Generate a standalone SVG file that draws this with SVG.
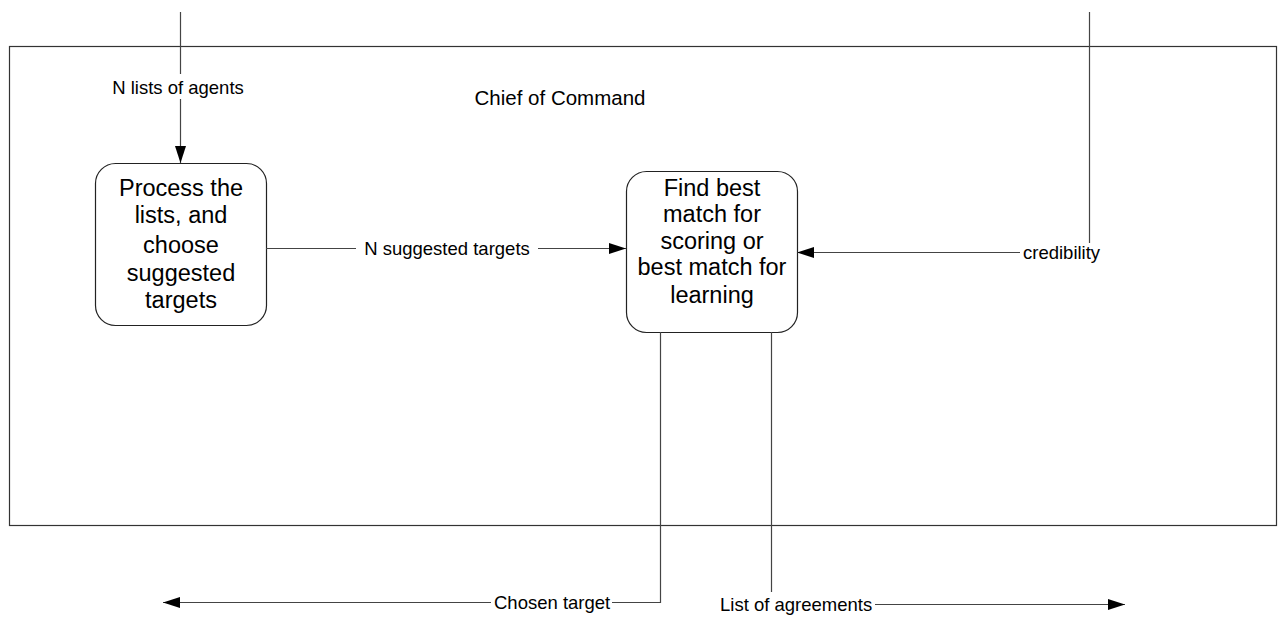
<svg xmlns="http://www.w3.org/2000/svg" width="1278" height="644" viewBox="0 0 1278 644">
  <style>
    .frame { fill: #ffffff; stroke: #333333; stroke-width: 1.2; }
    .node { fill: #ffffff; stroke: #222222; stroke-width: 1.2; }
    .wire { fill: none; stroke: #444444; stroke-width: 1.2; }
    .title { font-family: "Liberation Sans", Arial, sans-serif; font-size: 20.5px; fill: #000000; }
    .ntext { font-family: "Liberation Sans", Arial, sans-serif; font-size: 23.5px; fill: #000000; text-anchor: middle; }
    .lbl { font-family: "Liberation Sans", Arial, sans-serif; font-size: 18.5px; fill: #000000; }
  </style>
  <defs>
    <marker id="arrow" markerUnits="userSpaceOnUse" markerWidth="19" markerHeight="13" refX="17" refY="5.5" orient="auto">
      <path d="M0,0 L17,5.5 L0,11 Z" fill="#000000"/>
    </marker>
  </defs>

  <rect width="1278" height="644" fill="#ffffff"/>

  <!-- system boundary -->
  <g id="chief-of-command">
    <rect class="frame" x="9.5" y="46.5" width="1267" height="479"/>
    <text class="title" x="560" y="105" text-anchor="middle">Chief of Command</text>
  </g>

  <g id="process-lists">
    <rect class="node" x="95.5" y="163.5" width="171" height="162" rx="20" ry="20"/>
    <text class="ntext" x="181" y="195.5">Process the</text>
    <text class="ntext" x="181" y="222.5">lists, and</text>
    <text class="ntext" x="181" y="252.5">choose</text>
    <text class="ntext" x="181" y="280.5">suggested</text>
    <text class="ntext" x="181" y="307.5">targets</text>
  </g>

  <g id="find-best-match">
    <rect class="node" x="626.5" y="171.5" width="171" height="161" rx="20" ry="20"/>
    <text class="ntext" x="712" y="195.5">Find best</text>
    <text class="ntext" x="712" y="221.5">match for</text>
    <text class="ntext" x="712" y="248.5">scoring or</text>
    <text class="ntext" x="712" y="274.5">best match for</text>
    <text class="ntext" x="712" y="302.5">learning</text>
  </g>

  <g id="connectors">
    <!-- N lists of agents -->
    <path class="wire" d="M180.5,12 V74"/>
    <path class="wire" d="M180.5,99 V163" marker-end="url(#arrow)"/>
    <text class="lbl" x="178" y="93.5" text-anchor="middle">N lists of agents</text>

    <!-- N suggested targets -->
    <path class="wire" d="M266,248.5 H356"/>
    <path class="wire" d="M538,248.5 H626" marker-end="url(#arrow)"/>
    <text class="lbl" x="447" y="254.5" text-anchor="middle">N suggested targets</text>

    <!-- credibility -->
    <path class="wire" d="M1089.5,12 V243"/>
    <path class="wire" d="M1020,252.5 H797" marker-end="url(#arrow)"/>
    <text class="lbl" x="1023" y="258.5">credibility</text>

    <!-- Chosen target -->
    <path class="wire" d="M660.5,332 V602.5 H612"/>
    <path class="wire" d="M491,602.5 H163" marker-end="url(#arrow)"/>
    <text class="lbl" x="494" y="609">Chosen target</text>

    <!-- List of agreements -->
    <path class="wire" d="M771.5,332 V592"/>
    <path class="wire" d="M875,604.5 H1125" marker-end="url(#arrow)"/>
    <text class="lbl" x="720" y="611">List of agreements</text>
  </g>
</svg>
